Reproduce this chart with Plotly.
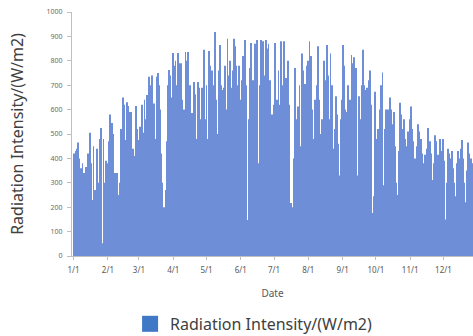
import plotly.graph_objects as go

# Daily radiation intensity (W/m2), month by month
jan = [420, 380, 430, 440, 465, 400, 305, 360, 380, 340, 220, 365, 300, 420, 400, 505,
       380, 230, 450, 270, 190, 440, 300, 230, 480, 525, 52, 480, 300, 390, 380]
feb = [365, 470, 580, 505, 545, 500, 340, 84, 340, 250, 190, 300, 520, 480, 650, 620,
       475, 630, 615, 590, 420, 590, 420, 440, 410, 615, 520, 475]
mar = [455, 530, 500, 620, 505, 640, 560, 660, 480, 735, 700, 540, 740, 525, 625, 480,
       735, 750, 700, 600, 420, 300, 161, 200, 270, 470, 700, 762, 740, 600, 650]
apr = [832, 780, 800, 700, 832, 790, 560, 790, 640, 380, 600, 836, 800, 836, 586, 700,
       324, 586, 500, 713, 663, 480, 713, 690, 380, 560, 690, 640, 845, 560]
may = [700, 480, 840, 780, 550, 760, 324, 700, 918, 640, 500, 760, 865, 700, 680, 400,
       690, 780, 600, 890, 740, 800, 560, 690, 760, 890, 860, 780, 700, 780, 640]
jun = [600, 720, 820, 650, 885, 700, 148, 560, 770, 873, 580, 720, 640, 870, 600, 885,
       380, 700, 885, 800, 880, 650, 740, 885, 850, 870, 720, 380, 580, 500]
jul = [620, 873, 600, 640, 760, 620, 880, 700, 640, 880, 680, 730, 600, 800, 620, 217,
       94, 200, 400, 770, 560, 500, 613, 700, 450, 830, 760, 560, 705, 270, 780]
aug = [800, 880, 820, 600, 350, 480, 640, 530, 700, 860, 640, 500, 560, 360, 800, 620,
       720, 865, 740, 560, 830, 700, 440, 360, 520, 655, 580, 460, 330, 560, 640]
sep = [865, 780, 600, 520, 590, 700, 620, 640, 824, 790, 815, 640, 770, 311, 330, 655,
       560, 700, 845, 700, 680, 620, 690, 600, 720, 760, 620, 176, 245, 673]
oct_ = [480, 360, 520, 430, 600, 700, 752, 290, 520, 600, 545, 600, 520, 650, 600, 540,
        590, 450, 300, 94, 250, 430, 628, 580, 520, 560, 480, 330, 450, 510, 480]
nov = [560, 613, 520, 470, 400, 290, 450, 540, 510, 460, 480, 420, 380, 415, 300, 440,
       525, 400, 470, 420, 311, 380, 495, 470, 380, 415, 300, 480, 430, 360]
dec = [480, 390, 150, 300, 440, 420, 320, 400, 430, 360, 300, 245, 380, 430, 400, 330,
       440, 475, 400, 300, 220, 350, 465, 420, 380, 400, 380, 350, 420, 380, 400]

months = [jan, feb, mar, apr, may, jun, jul, aug, sep, oct_, nov, dec]
month_labels = ["1/1", "2/1", "3/1", "4/1", "5/1", "6/1",
                "7/1", "8/1", "9/1", "10/1", "11/1", "12/1"]

values = [v for m in months for v in m]
days = list(range(len(values)))
month_starts = []
acc = 0
for m in months:
    month_starts.append(acc)
    acc += len(m)

series_name = "Radiation Intensity/(W/m2)"
font_family = "Noto Sans, DejaVu Sans, sans-serif"

fig = go.Figure()
fig.add_trace(go.Bar(
    x=days, y=values, name=series_name, showlegend=False,
    marker=dict(color="rgb(110,142,216)", line=dict(width=0)),
))
# legend proxy with a larger square swatch
fig.add_trace(go.Scatter(
    x=[None], y=[None], mode="markers", name=series_name,
    marker=dict(symbol="square", size=16, color="#3f78c6"),
))

fig.update_layout(
    width=473, height=336,
    margin=dict(l=72, r=0, t=12, b=80),
    paper_bgcolor="white", plot_bgcolor="white",
    bargap=0.2,
    font=dict(family=font_family, color="#595959"),
    showlegend=True,
    legend=dict(orientation="h", xref="container", x=0.275, xanchor="left",
                yref="container", y=0.036, yanchor="middle",
                font=dict(size=16, color="#404040"), itemsizing="trace",
                bgcolor="rgba(0,0,0,0)"),
    xaxis=dict(
        range=[-1.45, 360.7], tickmode="array", tickvals=month_starts, ticktext=month_labels,
        ticks="outside", ticklen=3, tickcolor="#bfbfbf", showline=True, linecolor="#bfbfbf",
        showgrid=False, zeroline=False, tickfont=dict(size=8, color="#595959"),
        ticklabelstandoff=3, automargin=False,
        title=dict(text="Date", font=dict(size=10, color="#595959"), standoff=16),
    ),
    yaxis=dict(
        range=[0, 1000], tickmode="linear", tick0=0, dtick=100,
        ticks="outside", ticklen=4, tickcolor="#bfbfbf", showline=True, linecolor="#bfbfbf",
        showgrid=False, zeroline=False, tickfont=dict(size=7, color="#6a6a6a"),
        ticklabelstandoff=3, automargin=False,
        title=dict(text=series_name, font=dict(size=16, color="#404040"), standoff=18),
    ),
)

fig.write_html("out.html")
